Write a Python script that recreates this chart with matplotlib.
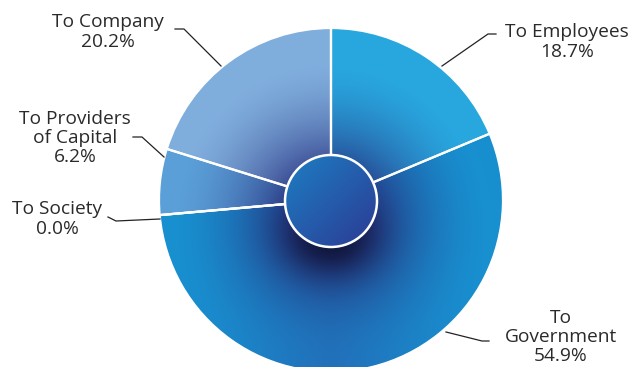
import numpy as np
import matplotlib
matplotlib.use("Agg")
import matplotlib.pyplot as plt
from matplotlib.patches import Circle
from matplotlib.colors import to_rgb

labels = ["To Employees", "To Government", "To Society", "To Providers\nof Capital", "To Company"]
values = [18.7, 54.9, 0.0, 6.2, 20.2]
colors = ["#29A8E0", "#1890D0", "#1890D0", "#5BA0D8", "#80AEDD"]

W, H = 632, 367
fig = plt.figure(figsize=(W / 100, H / 100), dpi=100)
ax = fig.add_axes([0, 0, 1, 1])

cx, cy_pix, R = 331, 200, 172
cy = H - cy_pix

wedges, _ = ax.pie(values, startangle=90, counterclock=False, center=(cx, cy),
                   radius=R, frame=True,
                   wedgeprops=dict(facecolor="none", edgecolor="white", linewidth=1.6))

yy, xx = np.mgrid[0:H, 0:W] + 0.5
navy = np.array(to_rgb("#27307F"))
black = np.array(to_rgb("#0A0F28"))
rs = np.hypot(xx - cx, (yy - (cy_pix + 18)) * 1.0)
dark = np.clip(1 - (rs - 40) / 120, 0, 1) ** 1.7
shadow = np.exp(-((xx - cx) ** 2 / (2 * 30 ** 2) + (yy - (cy_pix + 38)) ** 2 / (2 * 24 ** 2)))
bottom = np.clip((yy - cy_pix) / R, 0, 1) ** 1.5 * np.clip(1 - np.abs(xx - cx) / R, 0, 1)

for w, col, v in zip(wedges, colors, values):
    if v <= 0:
        continue
    base = np.array(to_rgb(col))
    img = base[None, None, :] * np.ones((H, W, 1))
    if col == "#1890D0":
        img = img * (1 - 0.55 * bottom[..., None]) + np.array(to_rgb("#2B55A8")) * 0.55 * bottom[..., None]
    k = 0.92
    img = img * (1 - k * dark[..., None]) + navy * k * dark[..., None]
    img = img * (1 - 0.85 * shadow[..., None]) + black * 0.85 * shadow[..., None]
    im = ax.imshow(img, extent=(0, W, 0, H), origin="upper", zorder=0.5, interpolation="bilinear")
    im.set_clip_path(w)
    w.set_zorder(1)

# center circle
rc = 46
t = ((xx - (cx - rc)) + (yy - (cy_pix - rc))) / (4 * rc)
t = np.clip(t, 0, 1)
c1 = np.array(to_rgb("#1D7FC4"))
c2 = np.array(to_rgb("#2C3A93"))
cimg = c1 * (1 - t[..., None]) + c2 * t[..., None]
circ = Circle((cx, cy - 1), rc, facecolor="none", edgecolor="white", linewidth=1.8, zorder=3)
ax.add_patch(circ)
imc = ax.imshow(cimg, extent=(0, W, 0, H), origin="upper", zorder=2.5, interpolation="bilinear")
imc.set_clip_path(circ)

# labels and leaders (pixel coords, y-down)
pcts = [f"{v:.1f}%" for v in values]
label_pos = [(567, 42), (561, 337), (57, 219), (75, 138), (108, 32)]
leaders = [
    [(496, 34), (488, 34), (442, 66)],
    [(489, 341), (482, 341), (446, 332)],
    [(108, 217), (116, 221), (160, 219)],
    [(133, 137), (142, 137), (164, 157)],
    [(175, 29), (184, 29), (221, 66)],
]
txt = ["To Employees", "To\nGovernment", "To Society", "To Providers\nof Capital", "To Company"]
for (lx, ly), s, p, pts in zip(label_pos, txt, pcts, leaders):
    ax.text(lx, H - ly, f"{s}\n{p}", ha="center", va="center", fontsize=13.8,
            family=["Open Sans", "DejaVu Sans"], color="#2A2A2A", linespacing=1.08, zorder=5)
    px = [q[0] for q in pts]
    py = [H - q[1] for q in pts]
    ax.plot(px, py, color="#222222", linewidth=0.9, zorder=4)

ax.set_xlim(0, W)
ax.set_ylim(0, H)
ax.set_aspect("auto")
ax.axis("off")
fig.savefig("out.png", dpi=100)
